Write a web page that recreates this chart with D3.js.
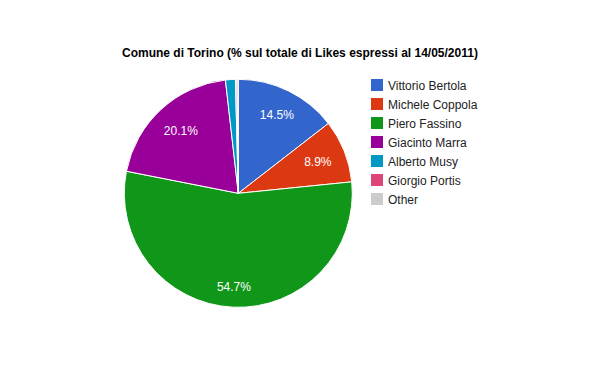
<!DOCTYPE html>
<html><head><meta charset="utf-8">
<script src="https://cdn.jsdelivr.net/npm/d3@7"></script>
<style>body{margin:0;background:#fff;}svg{display:block;font-family:Arial,"Liberation Sans",sans-serif;}</style>
</head><body>
<svg id="c" width="600" height="371"></svg>
<script>
const title = "Comune di Torino (% sul totale di Likes espressi al 14/05/2011)";
const categories = ["Vittorio Bertola","Michele Coppola","Piero Fassino","Giacinto Marra","Alberto Musy","Giorgio Portis","Other"];
const values = [14.5, 8.9, 54.7, 20.1, 1.4, 0.2, 0.2];
const colors = ["#3366cc","#dc3912","#109618","#990099","#0099c6","#dd4477","#cccccc"];

const svg = d3.select("#c");
const cx = 238.3, cy = 193.3, r = 114;
const data = categories.map((c,i)=>({name:c, value:values[i], color:colors[i]}));
const pie = d3.pie().sort(null).value(d=>d.value);
const arcs = pie(data);
const arc = d3.arc().innerRadius(0).outerRadius(r);
const totalV = d3.sum(values);

svg.append("text").attr("x",122).attr("y",57).attr("font-size",12).attr("font-weight","bold")
  .attr("fill","#000").text(title);

const g = svg.append("g").attr("transform",`translate(${cx},${cy})`);
g.selectAll("path").data(arcs).join("path").attr("d",arc)
  .attr("fill",d=>d.data.color).attr("stroke","#fff").attr("stroke-width",1);

// labels: placed so the outer corner of the text box sits at r-14
const Rl = r - 14, hh = 4.4;
g.selectAll("text").data(arcs.filter(d=>d.data.value/totalV>0.05)).join("text")
  .attr("text-anchor","middle").attr("dy","0.35em").attr("font-size",12).attr("fill","#fff")
  .text(d=>d.data.value.toFixed(1)+"%")
  .each(function(d){
    const hw = this.getComputedTextLength()/2;
    const a = (d.startAngle+d.endAngle)/2;
    const ux = Math.sin(a), uy = -Math.cos(a);
    const ax = Math.abs(ux), ay = Math.abs(uy);
    // (t*ax+hw)^2 + (t*ay+hh)^2 = Rl^2
    const B = 2*(ax*hw+ay*hh), C = hw*hw+hh*hh-Rl*Rl;
    const t = (-B + Math.sqrt(B*B-4*C))/2;
    d3.select(this).attr("transform",`translate(${t*ux},${t*uy})`);
  });

const y = d3.scaleBand().domain(categories).range([75.5, 75.5+19*categories.length]);
const leg = svg.append("g");
const rows = leg.selectAll("g").data(data).join("g")
  .attr("transform",d=>`translate(371,${y(d.name)})`);
rows.append("rect").attr("width",12).attr("height",12).attr("y",3.5).attr("fill",d=>d.color);
rows.append("text").attr("x",17).attr("y",14).attr("font-size",12).attr("fill","#222").text(d=>d.name);
</script>
</body></html>
